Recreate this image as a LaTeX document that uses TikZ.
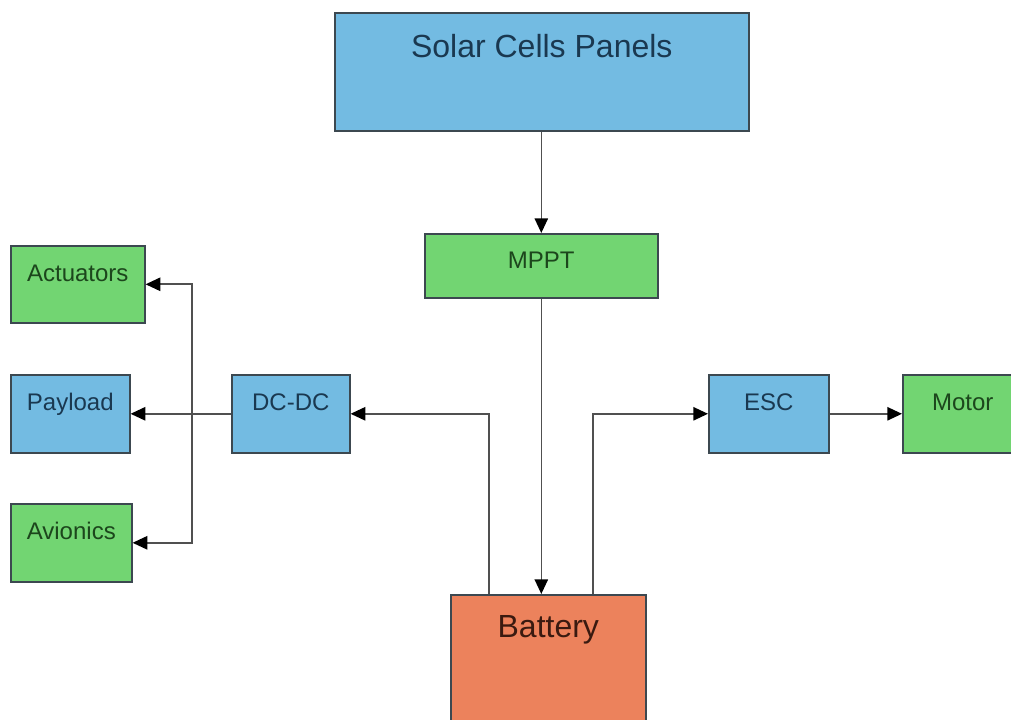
\documentclass[tikz,border=0pt]{standalone}
\usepackage{fontspec}
\setsansfont{Liberation Sans}
\usetikzlibrary{arrows.meta,positioning,calc}
\definecolor{pwblue}{HTML}{73BBE2}
\definecolor{pwgreen}{HTML}{72D572}
\definecolor{pworange}{HTML}{EC825C}
\definecolor{pwline}{HTML}{505050}
\definecolor{pwframe}{HTML}{3C4850}
\definecolor{pwbluetext}{HTML}{1A3850}
\definecolor{pwgreentext}{HTML}{1C461C}
\definecolor{pwbattext}{HTML}{3A1A10}

\begin{document}
\begin{tikzpicture}[x=0.75pt,y=-0.75pt,>={Triangle[length=11pt,width=10pt,color=black]},
    blk/.style={draw=pwframe,line width=1.2pt,inner sep=0pt,anchor=north west,align=center,font=\sffamily\fontsize{18}{20}\selectfont},
    bigblk/.style={blk,font=\sffamily\fontsize{24}{28}\selectfont},
    smallbox/.style={text height=27pt,text depth=31.5pt},
    bluebox/.style={fill=pwblue,text=pwbluetext},
    greenbox/.style={fill=pwgreen,text=pwgreentext},
    link/.style={->,draw=pwline,line width=1.2pt}]
    \clip (0,0) rectangle (1011,720);
    % power source chain
    \node[bigblk,bluebox,minimum width=310.5pt,text height=33.4pt,text depth=55.1pt] (solar) at (334,12) {Solar Cells Panels};
    \node[blk,greenbox,minimum width=174.75pt,text height=26.25pt,text depth=21.75pt] (mppt) at (424,233) {MPPT};
    \node[bigblk,fill=pworange,text=pwbattext,minimum width=146.25pt,text height=32pt,text depth=73pt] (bat) at (450,594) {Battery};
    % converters and loads
    \node[blk,bluebox,smallbox,minimum width=88.5pt] (dcdc) at (231,374) {DC-DC};
    \node[blk,bluebox,smallbox,minimum width=90pt] (esc) at (708,374) {ESC};
    \node[blk,greenbox,smallbox,minimum width=90pt] (motor) at (902,374) {Motor};
    \node[blk,greenbox,minimum width=100.5pt,text height=27pt,text depth=30.75pt] (act) at (10,245) {Actuators};
    \node[blk,bluebox,smallbox,minimum width=89.25pt] (pay) at (10,374) {Payload};
    \node[blk,greenbox,smallbox,minimum width=90.75pt] (avi) at (10,503) {Avionics};
    % branch points
    \coordinate (batL) at ($(bat.north west)+(39,0)$);
    \coordinate (batR) at ($(bat.north west)+(143,0)$);
    \coordinate (split) at (192,413);
    \draw[link] (solar.south -| mppt.north) -- (mppt.north);
    \draw[link] (mppt.south) -- (mppt.south |- bat.north);
    \draw[link] (batL) |- (dcdc.east);
    \draw[link] (batR) |- (esc.west);
    \draw[link] (esc.east) -- (motor.west);
    \draw[link] (dcdc.west) -- (pay.east);
    \draw[link] (split) |- (act.east);
    \draw[link] (split) |- (avi.east);
\end{tikzpicture}
\end{document}
